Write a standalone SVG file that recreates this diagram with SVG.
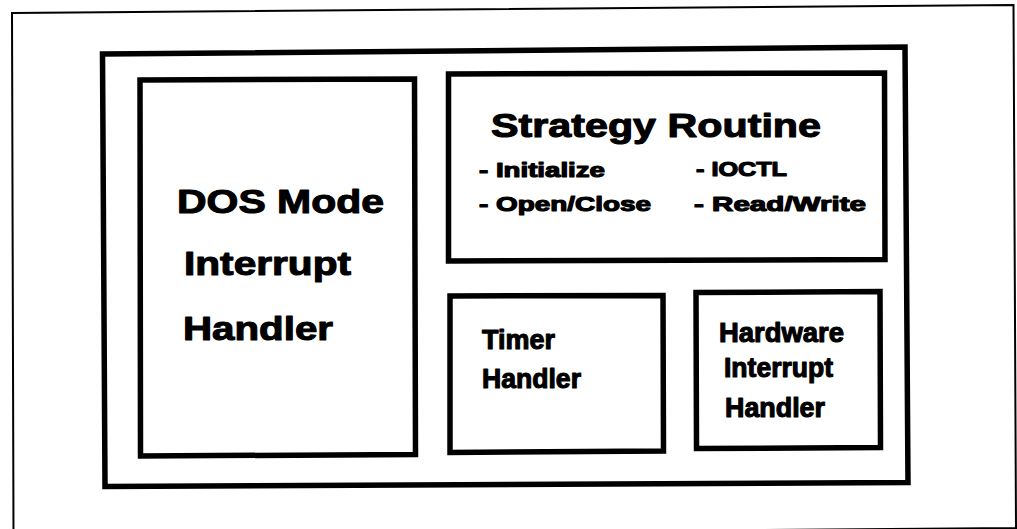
<svg xmlns="http://www.w3.org/2000/svg" width="1017" height="529" viewBox="0 0 1017 529">
  <style>
    .frame { fill: none; stroke: #000; stroke-linejoin: miter; }
    .thin { stroke-width: 2; }
    .thick { stroke-width: 5.5; }
    text { font-family: "Liberation Sans", Arial, Helvetica, sans-serif; font-weight: bold; fill: #000; stroke: #000; stroke-width: 1.1; stroke-linejoin: round; }
    .big { font-size: 34px; }
    .mid { font-size: 27px; }
    .small { font-size: 21px; stroke-width: 1.2; }
  </style>

  <rect x="0" y="0" width="1017" height="529" fill="#fff"/>

  <!-- page border -->
  <g id="page-border">
    <path class="frame thin" d="M12,13 L1013.5,5 L1016,528 L13.5,536 Z"/>
  </g>

  <!-- device driver enclosure -->
  <g id="driver">
    <path class="frame thick" d="M102.5,54 L905,47 L908,482.5 L105,486.5 Z"/>
  </g>

  <!-- DOS mode interrupt handler -->
  <g id="dos-mode-handler">
    <path class="frame thick" d="M140,80 L414.5,79 L415.5,454.5 L140.5,456 Z"/>
    <text class="big" x="177" y="213" font-size="35" textLength="207" lengthAdjust="spacingAndGlyphs">DOS Mode</text>
    <text class="big" x="184" y="275" font-size="31" textLength="167" lengthAdjust="spacingAndGlyphs">Interrupt</text>
    <text class="big" x="183" y="340" font-size="33" textLength="150" lengthAdjust="spacingAndGlyphs">Handler</text>
  </g>

  <!-- strategy routine -->
  <g id="strategy-routine">
    <path class="frame thick" d="M448.5,74 L884.5,73 L885,259.5 L448.5,261 Z"/>
    <text class="big" x="491" y="137" font-size="33" textLength="330" lengthAdjust="spacingAndGlyphs">Strategy Routine</text>
    <text class="small" x="479" y="176.5" textLength="126" lengthAdjust="spacingAndGlyphs">- Initialize</text>
    <text class="small" x="696" y="175.5" textLength="91" lengthAdjust="spacingAndGlyphs">- IOCTL</text>
    <text class="small" x="479" y="211" textLength="172" lengthAdjust="spacingAndGlyphs">- Open/Close</text>
    <text class="small" x="694" y="211" textLength="172" lengthAdjust="spacingAndGlyphs">- Read/Write</text>
  </g>

  <!-- timer handler -->
  <g id="timer-handler">
    <path class="frame thick" d="M450,296 L663,295.5 L663.5,451 L450,452.5 Z"/>
    <text class="mid" x="482" y="349" textLength="73" lengthAdjust="spacingAndGlyphs">Timer</text>
    <text class="mid" x="482" y="388" textLength="99" lengthAdjust="spacingAndGlyphs">Handler</text>
  </g>

  <!-- hardware interrupt handler -->
  <g id="hardware-interrupt-handler">
    <path class="frame thick" d="M696,292.5 L880,291.5 L880.5,447.5 L696.5,448.5 Z"/>
    <text class="mid" x="719" y="342" textLength="125" lengthAdjust="spacingAndGlyphs">Hardware</text>
    <text class="mid" x="724" y="377" textLength="109" lengthAdjust="spacingAndGlyphs">Interrupt</text>
    <text class="mid" x="725" y="417" textLength="100" lengthAdjust="spacingAndGlyphs">Handler</text>
  </g>
</svg>
